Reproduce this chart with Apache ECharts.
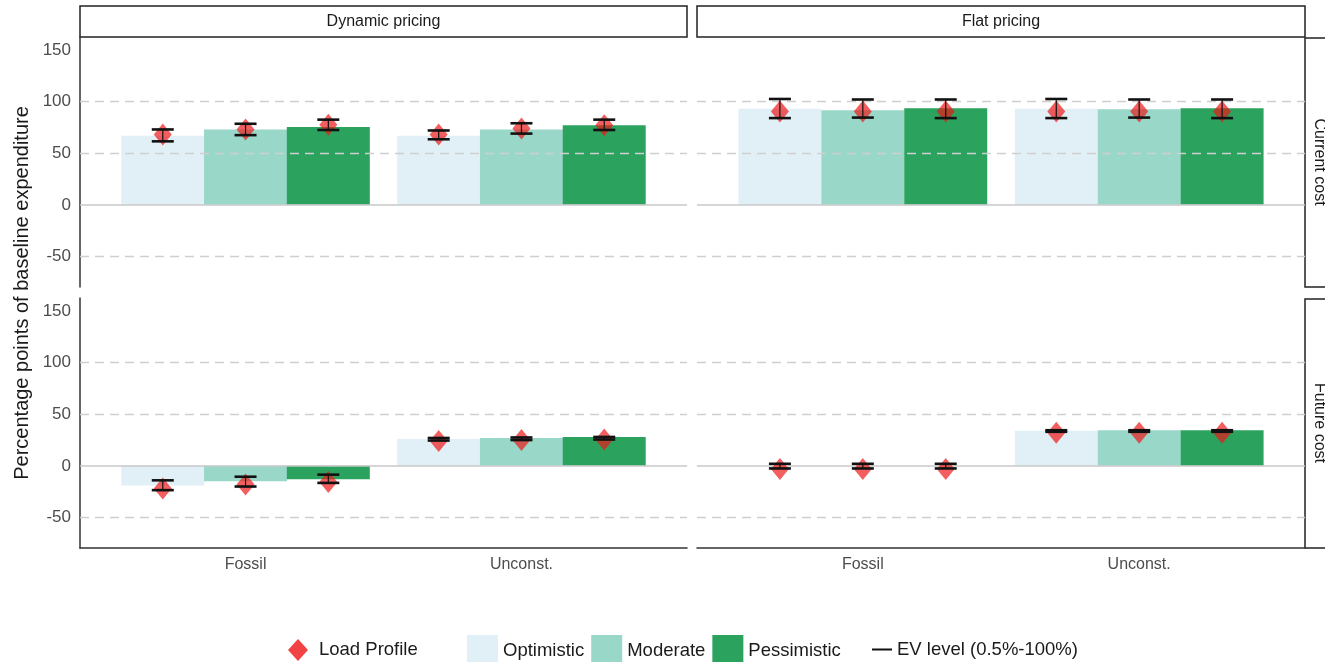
<!DOCTYPE html>
<html>
<head>
<meta charset="utf-8">
<script src="https://cdn.jsdelivr.net/npm/echarts@6/dist/echarts.min.js"></script>
<style>
  html, body { margin: 0; padding: 0; background: #fff; }
  #main { width: 1325px; height: 662px; }
</style>
</head>
<body>
<div id="main"></div>
<script>
const categories = ["Fossil", "Unconst."];
const scenarios = ["Optimistic", "Moderate", "Pessimistic"];
const colTitles = ["Dynamic pricing", "Flat pricing"];
const rowTitles = ["Current cost", "Future cost"];
const yTicks = [-50, 0, 50, 100, 150];

// rows = scenario, columns = category
const dynCurBars = [[67, 67], [73, 73], [75.5, 77]];
const dynCurPts = [[68, 68], [73, 74], [77.5, 77]];
const dynCurLo = [[61.5, 63.5], [67.5, 69], [72.5, 72.5]];
const dynCurHi = [[73, 72], [78.5, 79], [82.5, 82.5]];

const flatCurBars = [[93, 93], [91.5, 92.5], [93.5, 93.5]];
const flatCurPts = [[90.5, 90.5], [90.5, 90.5], [90.5, 90.5]];
const flatCurLo = [[84, 84], [84.5, 84.5], [84, 84]];
const flatCurHi = [[102.5, 102.5], [102, 102], [102, 102]];

const dynFutBars = [[-19, 26], [-15, 27], [-13, 28]];
const dynFutPts = [[-22, 24], [-18, 25], [-15.5, 25.5]];
const dynFutLo = [[-23.5, 24.5], [-20, 25], [-16.5, 25.5]];
const dynFutHi = [[-14, 27], [-10.5, 27.5], [-8.5, 28]];

const flatFutBars = [[0, 34], [0, 34.5], [0, 34.5]];
const flatFutPts = [[-3, 32], [-3, 32], [-3, 32]];
const flatFutLo = [[-2.5, 33], [-2.5, 33], [-2.5, 33]];
const flatFutHi = [[2, 34.5], [2, 34.5], [2, 34.5]];

const colors = ["#e1f0f6", "#99d8c9", "#2ca25f"];
const font = "Liberation Sans, Arial, sans-serif";

const panels = [
  { bars: dynCurBars, pts: dynCurPts, lo: dynCurLo, hi: dynCurHi },
  { bars: flatCurBars, pts: flatCurPts, lo: flatCurLo, hi: flatCurHi },
  { bars: dynFutBars, pts: dynFutPts, lo: dynFutLo, hi: dynFutHi },
  { bars: flatFutBars, pts: flatFutPts, lo: flatFutLo, hi: flatFutHi }
];

const colLeft = [80, 697];
const colWidth = [607, 608];
const rowTop = [37, 298];
const rowHeight = 250;

// dodged x position for scenario si within category ci
function xPos(ci, si) {
  return ci + 1 + (si - 1) * 0.3;
}

const grids = [], xAxes = [], yAxes = [], series = [];

panels.forEach(function (p, i) {
  const row = Math.floor(i / 2), col = i % 2;
  grids.push({ left: colLeft[col], top: rowTop[row], width: colWidth[col], height: rowHeight });
  xAxes.push({
    gridIndex: i, type: "value", min: 0.4, max: 2.6,
    splitLine: { show: false },
    axisTick: { show: false },
    axisLine: { show: row === 1, onZero: false, lineStyle: { color: "#333", width: 1.5 } },
    axisLabel: {
      show: row === 1, customValues: [1, 2], margin: 9,
      color: "#4d4d4d", fontSize: 16, fontFamily: font,
      formatter: function (v) { return categories[Math.round(v) - 1]; }
    }
  });
  yAxes.push({
    gridIndex: i, type: "value", min: -79.5, max: 162.5,
    splitLine: { show: false },
    axisTick: { show: false },
    axisLine: { show: col === 0, onZero: false, lineStyle: { color: "#333", width: 1.5 } },
    axisLabel: {
      show: col === 0, customValues: yTicks, margin: 9,
      color: "#4d4d4d", fontSize: 17, fontFamily: font
    }
  });

  scenarios.forEach(function (name, si) {
    const s = {
      name: name, type: "bar", xAxisIndex: i, yAxisIndex: i,
      barWidth: 83, barGap: "-100%",
      itemStyle: { color: colors[si] },
      data: categories.map(function (c, ci) { return [xPos(ci, si), p.bars[si][ci]]; })
    };
    if (si === 0) {
      s.markLine = {
        silent: true, symbol: "none", label: { show: false },
        data: [
          { yAxis: 0, lineStyle: { color: "#c8c8c8", type: "solid", width: 1.5 } },
          { yAxis: -50, lineStyle: { color: "#cfcfcf", type: [9, 6], width: 1.3 } },
          { yAxis: 50, lineStyle: { color: "#cfcfcf", type: [9, 6], width: 1.3 } },
          { yAxis: 100, lineStyle: { color: "#cfcfcf", type: [9, 6], width: 1.3 } }
        ]
      };
    }
    series.push(s);
  });

  const ptData = [], errData = [];
  scenarios.forEach(function (name, si) {
    categories.forEach(function (c, ci) {
      ptData.push([xPos(ci, si), p.pts[si][ci]]);
      errData.push([xPos(ci, si), p.lo[si][ci], p.hi[si][ci]]);
    });
  });

  series.push({
    name: "Load Profile", type: "scatter", xAxisIndex: i, yAxisIndex: i,
    symbol: "diamond", symbolSize: [18, 22], z: 6,
    itemStyle: { color: "rgba(238,20,20,0.85)" },
    data: ptData
  });

  series.push({
    name: "EV level (0.5%-100%)", type: "custom", xAxisIndex: i, yAxisIndex: i, z: 7,
    itemStyle: { color: "#111" },
    renderItem: function (params, api) {
      const top = api.coord([api.value(0), api.value(2)]);
      const bot = api.coord([api.value(0), api.value(1)]);
      const hw = 11;
      return {
        type: "group",
        children: [
          { type: "line", shape: { x1: top[0], y1: top[1], x2: bot[0], y2: bot[1] }, style: { stroke: "#111", lineWidth: 1.2 } },
          { type: "line", shape: { x1: top[0] - hw, y1: top[1], x2: top[0] + hw, y2: top[1] }, style: { stroke: "#111", lineWidth: 2.6 } },
          { type: "line", shape: { x1: bot[0] - hw, y1: bot[1], x2: bot[0] + hw, y2: bot[1] }, style: { stroke: "#111", lineWidth: 2.6 } }
        ]
      };
    },
    encode: { x: 0, y: [1, 2] },
    data: errData
  });
});

const graphics = [];
colTitles.forEach(function (t, col) {
  graphics.push({
    type: "rect", shape: { x: colLeft[col], y: 6, width: colWidth[col], height: 31 },
    style: { fill: "#fff", stroke: "#222", lineWidth: 1.5 }
  });
  graphics.push({
    type: "text", x: colLeft[col] + colWidth[col] / 2, y: 22,
    style: { text: t, fill: "#1a1a1a", font: "16px " + font, align: "center", verticalAlign: "middle" }
  });
});
rowTitles.forEach(function (t, row) {
  graphics.push({
    type: "rect", shape: { x: 1305, y: rowTop[row] + 1, width: 40, height: rowHeight - 1 },
    style: { fill: "#fff", stroke: "#222", lineWidth: 1.5 }
  });
  graphics.push({
    type: "text", x: 1319, y: rowTop[row] + rowHeight / 2, rotation: -Math.PI / 2,
    style: { text: t, fill: "#1a1a1a", font: "16px " + font, align: "center", verticalAlign: "middle" }
  });
});
graphics.push({
  type: "text", x: 22, y: 293, rotation: Math.PI / 2,
  style: { text: "Percentage points of baseline expenditure", fill: "#1a1a1a", font: "20px " + font, align: "center", verticalAlign: "middle" }
});

const legendText = { color: "#1a1a1a", fontSize: 18.5, fontFamily: font };

const option = {
  animation: false,
  backgroundColor: "#fff",
  grid: grids,
  xAxis: xAxes,
  yAxis: yAxes,
  series: series,
  graphic: graphics,
  legend: [
    {
      left: 283, top: 634, itemWidth: 20, itemHeight: 22, selectedMode: false,
      textStyle: Object.assign({ padding: [0, 0, 0, 6] }, legendText),
      data: [{ name: "Load Profile", icon: "diamond", itemStyle: { color: "#ee1414" } }]
    },
    {
      left: 462, top: 630, itemWidth: 31, itemHeight: 31, itemGap: 7, selectedMode: false,
      textStyle: legendText,
      data: scenarios.map(function (s) { return { name: s, icon: "rect" }; })
    },
    {
      left: 867, top: 635, itemWidth: 20, itemHeight: 20, selectedMode: false,
      textStyle: legendText,
      data: [{ name: "EV level (0.5%-100%)", icon: "path://M0,9 L20,9 L20,11 L0,11 Z", itemStyle: { color: "#111" } }]
    }
  ]
};

const myChart = echarts.init(document.getElementById("main"));
myChart.setOption(option);
</script>
</body>
</html>
